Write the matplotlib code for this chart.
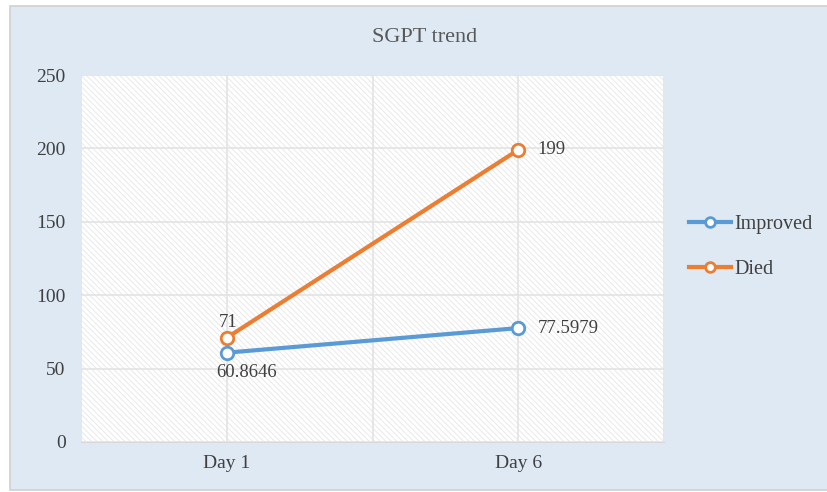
import matplotlib.pyplot as plt
from matplotlib.patches import Rectangle
import matplotlib.lines as mlines

days = ["Day 1", "Day 6"]
improved = [60.8646, 77.5979]
died = [71, 199]
improved_labels = ["60.8646", "77.5979"]
died_labels = ["71", "199"]

BLUE = "#5B9BD5"
ORANGE = "#ED7D31"
TEXT = "#404040"

plt.rcParams["font.family"] = ["Liberation Serif", "DejaVu Serif"]
plt.rcParams["hatch.color"] = "#E6E6E6"
plt.rcParams["hatch.linewidth"] = 0.6

fig = plt.figure(figsize=(8.27, 4.92), dpi=100)
fig.patch.set_facecolor("white")
# chart area background with thin border
fig.add_artist(Rectangle((10 / 827, 2 / 492), 830 / 827, 484 / 492, transform=fig.transFigure,
                         facecolor="#DEE9F4", edgecolor="#D0D0D0", linewidth=1.2, zorder=0))

ax = fig.add_axes([81 / 827, 1 - 442 / 492, 583 / 827, 367 / 492])
ax.set_facecolor("white")
ax.add_patch(Rectangle((0, 0), 1, 1, transform=ax.transAxes, facecolor="white",
                       edgecolor="#E6E6E6", hatch="\\\\\\\\\\\\", linewidth=0, zorder=0))

x = [0.5, 1.5]
ax.set_xlim(0, 2)
ax.set_ylim(0, 250)
ax.set_yticks(range(0, 251, 50))
ax.set_xticks(x)
ax.set_xticklabels(days)
ax.set_xticks([0, 1, 2], minor=True)
ax.grid(True, which="major", axis="y", color="#E3E3E3", linewidth=1.2)
ax.grid(True, which="minor", axis="x", color="#E3E3E3", linewidth=1.2)
ax.grid(True, which="major", axis="x", color="#E3E3E3", linewidth=1.2)
ax.set_axisbelow(True)
for s in ax.spines.values():
    s.set_visible(False)
ax.spines["bottom"].set_visible(True)
ax.spines["bottom"].set_color("#D9D9D9")
ax.tick_params(which="both", length=0, labelsize=14, colors=TEXT)
ax.tick_params(axis="x", pad=9)
ax.tick_params(axis="y", pad=11)

marker_kw = dict(marker="o", markersize=9, markerfacecolor="white", markeredgewidth=2)
ax.plot(x, improved, color=BLUE, linewidth=3, markeredgecolor=BLUE, zorder=3, **marker_kw)
ax.plot(x, died, color=ORANGE, linewidth=3, markeredgecolor=ORANGE, zorder=3, **marker_kw)

ax.annotate(died_labels[0], (x[0], died[0]), xytext=(1, 5), textcoords="offset points",
            ha="center", va="bottom", fontsize=13.5, color=TEXT)
ax.annotate(improved_labels[0], (x[0], improved[0]), xytext=(14, -8), textcoords="offset points",
            ha="center", va="top", fontsize=13.5, color=TEXT)
ax.annotate(died_labels[1], (x[1], died[1]), xytext=(14, 0), textcoords="offset points",
            ha="left", va="center", fontsize=13.5, color=TEXT)
ax.annotate(improved_labels[1], (x[1], improved[1]), xytext=(14, 0), textcoords="offset points",
            ha="left", va="center", fontsize=13.5, color=TEXT)

fig.text(425 / 827, 1 - 38 / 492, "SGPT trend", ha="center", va="center", fontsize=16, color="#595959")

h1 = mlines.Line2D([], [], color=BLUE, linewidth=3, markeredgecolor=BLUE, markersize=7,
                   marker="o", markerfacecolor="white", markeredgewidth=2, label="Improved")
h2 = mlines.Line2D([], [], color=ORANGE, linewidth=3, markeredgecolor=ORANGE, markersize=7,
                   marker="o", markerfacecolor="white", markeredgewidth=2, label="Died")
fig.legend(handles=[h1, h2], loc="center left", bbox_to_anchor=(671 / 827, 1 - 247 / 492),
           frameon=False, fontsize=14.5, labelcolor=TEXT, handlelength=2.1, handletextpad=0.15,
           labelspacing=1.3)

fig.savefig("out.png", dpi=100)
